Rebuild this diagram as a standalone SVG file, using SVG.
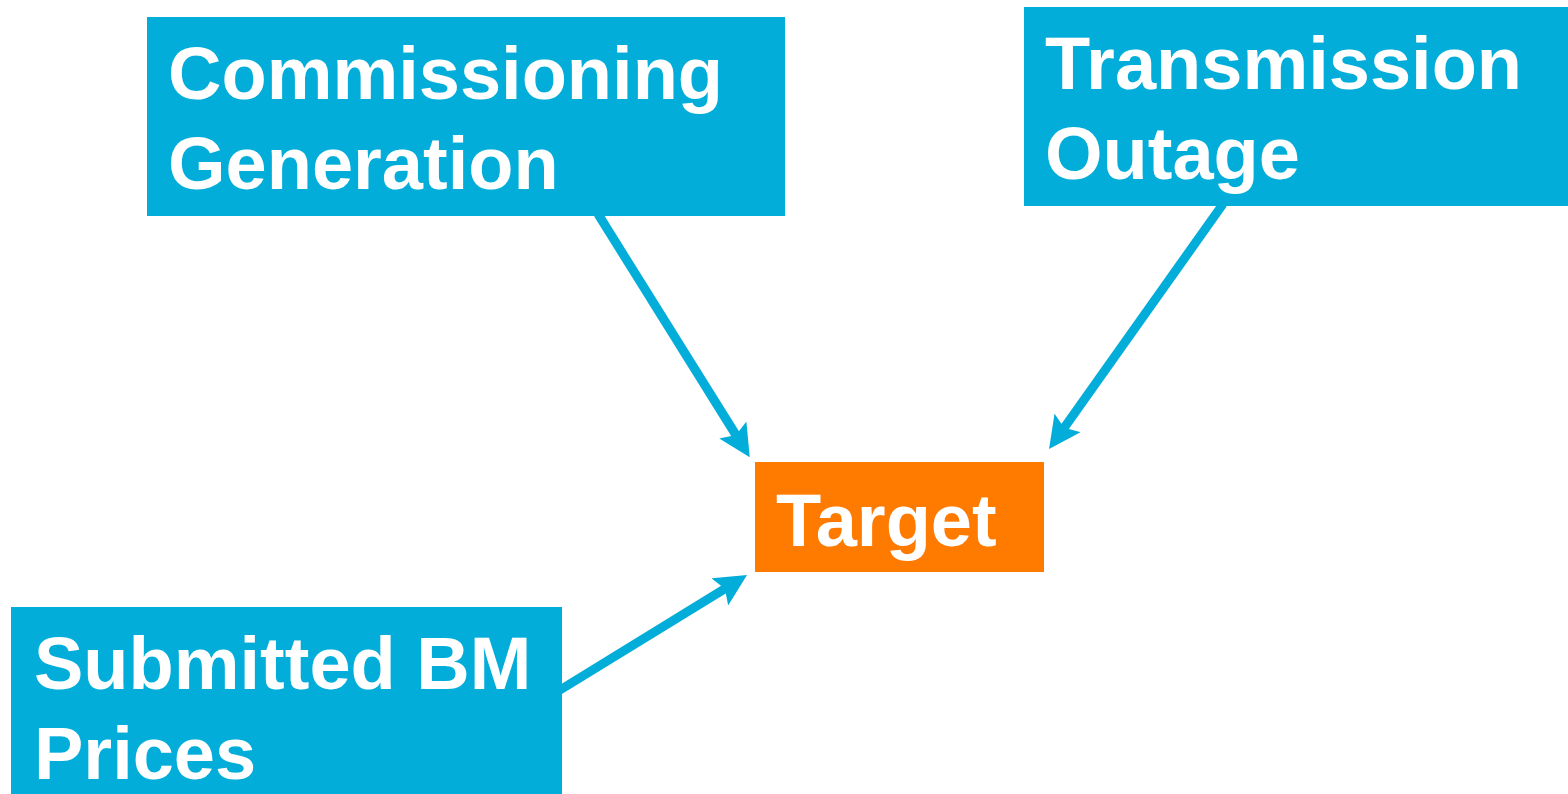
<svg xmlns="http://www.w3.org/2000/svg" width="1568" height="794" viewBox="0 0 1568 794">
<style>
.box{fill:#02AED9;}
.tgt{fill:#FF7B00;}
.lbl{font-family:"Liberation Sans",Arial,sans-serif;font-weight:bold;font-size:74px;fill:#FFFFFF;}
.con{stroke:#02AED9;stroke-width:9;fill:none;marker-end:url(#ah);}
</style>
<defs>
<marker id="ah" markerUnits="userSpaceOnUse" markerWidth="32" markerHeight="32" refX="10" refY="16" orient="auto" viewBox="0 0 32 32">
<path d="M0,0 L32,16 L0,32 L6,16 z" fill="#02AED9"/>
</marker>
</defs>
<rect width="1568" height="794" fill="#FFFFFF"/>
<g id="connectors">
<line class="con" x1="598" y1="214" x2="738.1" y2="438.5"/>
<line class="con" x1="1223" y1="204" x2="1061.8" y2="431.1"/>
<line class="con" x1="560" y1="690" x2="728.3" y2="586.6"/>
</g>
<g id="node-commissioning">
<rect class="box" x="147" y="17" width="638" height="199"/>
<text class="lbl" x="168" y="99">Commissioning</text>
<text class="lbl" x="168" y="189">Generation</text>
</g>
<g id="node-transmission">
<rect class="box" x="1024" y="7" width="544" height="199"/>
<text class="lbl" x="1045" y="89">Transmission</text>
<text class="lbl" x="1045" y="179">Outage</text>
</g>
<g id="node-submitted">
<rect class="box" x="11" y="607" width="551" height="187"/>
<text class="lbl" x="34" y="689">Submitted BM</text>
<text class="lbl" x="34" y="779">Prices</text>
</g>
<g id="node-target">
<rect class="tgt" x="755" y="462" width="289" height="110"/>
<text class="lbl" x="776" y="546">Target</text>
</g>
</svg>
